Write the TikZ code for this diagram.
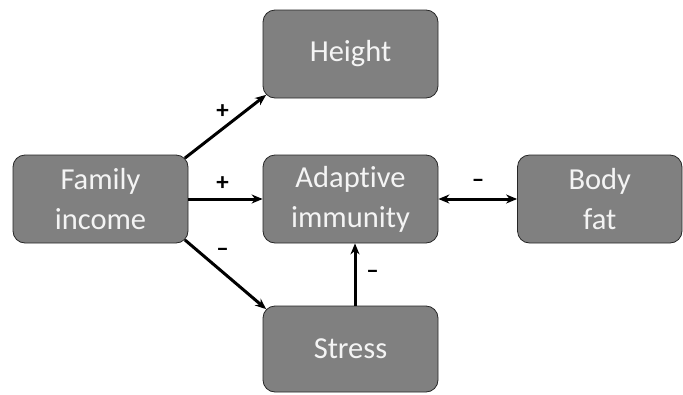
\documentclass[tikz,border=0pt]{standalone}
\usepackage{fontspec}
\setmainfont[Ligatures=NoCommon]{Carlito}
\usetikzlibrary{arrows.meta}

\definecolor{boxgray}{RGB}{128,128,128}
\definecolor{boxtext}{RGB}{244,244,244}

\tikzset{
  box/.style={draw=black!85, line width=0.8pt, fill=boxgray, rounded corners=12pt,
    minimum width=175pt, minimum height=88pt, inner sep=0pt, align=center,
    text=boxtext, font=\fontsize{30.5}{40}\selectfont},
  link/.style={line width=3pt, -{Stealth[length=11pt,width=9pt]}},
  sign/.style={font=\fontsize{25}{25}\selectfont\bfseries, inner sep=0pt}
}

\begin{document}
\begin{tikzpicture}[x=1pt,y=-1pt]
     \useasboundingbox (0,0) rectangle (683,394);
     % boxes
     \node[box] (income)   at (100.5,199) {Family\\income};
     \node[box] (height)   at (350.5, 54) {Height};
     \node[box] (immunity) at (350.5,199) {Adaptive\\immunity};
     \node[box, minimum width=164.5pt] (fat) at (599.75,199) {Body\\fat};
     \node[box, minimum height=86pt] (stress) at (350.5,349) {Stress};
     % arrows
     \draw[link] ([xshift=-3.5pt,yshift=-3.5pt]income.north east)
                 -- ([xshift=3.5pt,yshift=3.5pt]height.south west);
     \draw[link] (income.east) -- (immunity.west);
     \draw[link] ([xshift=-3.5pt,yshift=3.5pt]income.south east)
                 -- ([xshift=3.5pt,yshift=-3.5pt]stress.north west);
     \draw[link] ([xshift=4.5pt]stress.north) -- ([xshift=4.5pt]immunity.south);
     \draw[link, {Stealth[length=11pt,width=9pt]}-{Stealth[length=11pt,width=9pt]}]
                 (immunity.east) -- (fat.west);
     % signs
     \node[sign] (s1) at (222.5,112) {+};
     \node[sign] (s2) at (222.5,183.5) {+};
     \node[sign] (s3) at (222.5,252.5) {--};
     \node[sign] (s4) at (372.5,274.5) {--};
     \node[sign] (s5) at (478,183.5) {--};
\end{tikzpicture}
\end{document}
